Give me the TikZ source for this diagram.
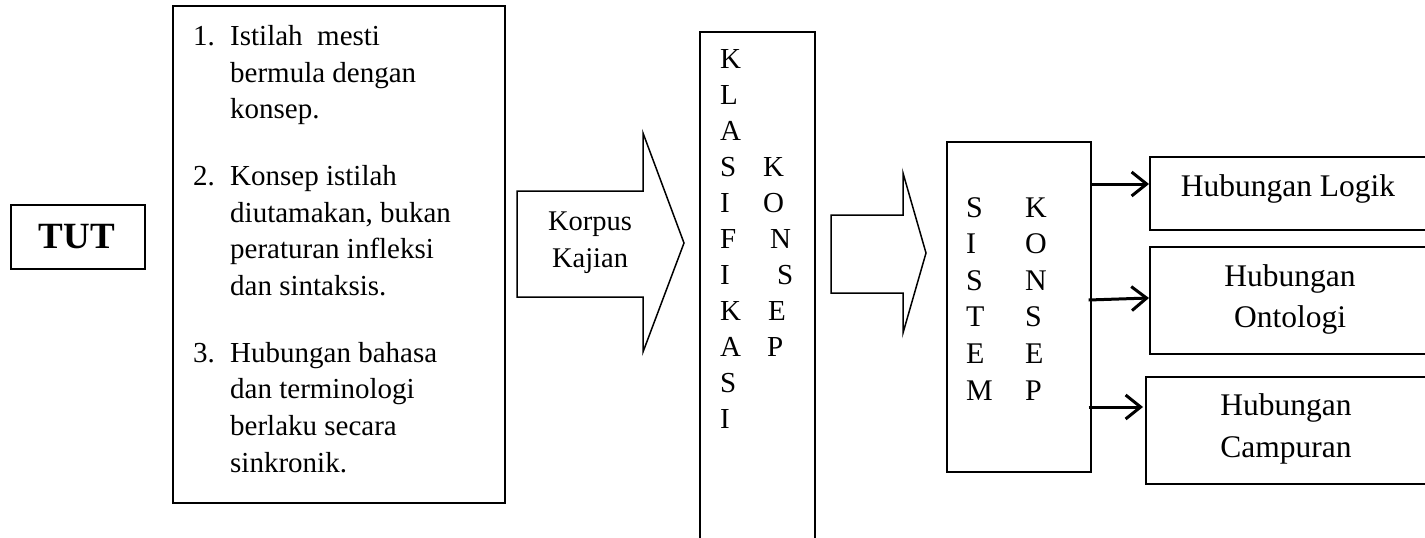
\documentclass[tikz,border=0pt]{standalone}
\usepackage{fontspec}
\setmainfont{Liberation Serif}
\usetikzlibrary{arrows.meta}
\begin{document}
\begin{tikzpicture}[x=1pt,y=-1pt,
  box/.style={draw, line width=1.6pt, rectangle, inner sep=0pt, anchor=north west},
  txt/.style={inner sep=0pt, anchor=base west, font=\fontsize{29}{35}\selectfont},
  ctxt/.style={inner sep=0pt, anchor=base, font=\fontsize{31.5}{38}\selectfont},
  ktxt/.style={inner sep=0pt, anchor=base, font=\fontsize{28.5}{34}\selectfont},
  let/.style={inner sep=0pt, anchor=base west, font=\fontsize{29}{35}\selectfont},
  slet/.style={inner sep=0pt, anchor=base west, font=\fontsize{30}{36}\selectfont},
  blockarrow/.style={draw, line width=1.5pt, line join=miter},
  conn/.style={line width=3pt, -{Straight Barb[length=15pt,width=24pt,line width=3pt]}}
]
\useasboundingbox (0,0) rectangle (1425,538);

% TUT
\node[box, minimum width=134pt, minimum height=64pt] (tut) at (10,204) {};
\node[inner sep=0pt, anchor=base, font=\bfseries\fontsize{37}{40}\selectfont] (tutlbl) at (77,248) {TUT};

% list box
\node[box, minimum width=332pt, minimum height=497pt] (list) at (172,5) {};
\node[txt] (n1) at (193,45) {1.};
\node[txt] (l1a) at (230,45) {Istilah\ \ mesti};
\node[txt] (l1b) at (230,82) {bermula dengan};
\node[txt] (l1c) at (230,118) {konsep.};
\node[txt] (n2) at (193,185) {2.};
\node[txt] (l2a) at (230,185) {Konsep istilah};
\node[txt] (l2b) at (230,222) {diutamakan, bukan};
\node[txt] (l2c) at (230,258) {peraturan infleksi};
\node[txt] (l2d) at (230,295) {dan sintaksis.};
\node[txt] (n3) at (193,362) {3.};
\node[txt] (l3a) at (230,362) {Hubungan bahasa};
\node[txt] (l3b) at (230,398) {dan terminologi};
\node[txt] (l3c) at (230,435) {berlaku secara};
\node[txt] (l3d) at (230,472) {sinkronik.};

% Korpus block arrow
\draw[blockarrow] (517,191) -- (643,191) -- (643,133) -- (684,243) -- (643,352) -- (643,297) -- (517,297) -- cycle;
\node[ktxt] (korpus) at (590,230) {Korpus};
\node[ktxt] (kajian) at (590,267) {Kajian};

% Klasifikasi box
\node[box, minimum width=115pt, minimum height=514pt] (klas) at (699,31) {};
\foreach \l [count=\i from 0] in {K,L,A,S,I,F,I,K,A,S,I}
  \node[let] (kl\i) at (720,{68+36*\i}) {\l};
\foreach \l/\xx [count=\i from 3] in {K/763,O/763,N/770,S/777,E/768,P/767}
  \node[let] (kk\i) at (\xx,{68+36*\i}) {\l};

% second block arrow
\draw[blockarrow] (831,215) -- (903,215) -- (903,173) -- (926,253) -- (903,333) -- (903,293) -- (831,293) -- cycle;

% Sistem box
\node[box, minimum width=144pt, minimum height=330pt] (sistem) at (946,141) {};
\foreach \l [count=\i from 0] in {S,I,S,T,E,M}
  \node[slet] (ss\i) at (966,{217+36.6*\i}) {\l};
\foreach \l [count=\i from 0] in {K,O,N,S,E,P}
  \node[slet] (sk\i) at (1025,{217+36.6*\i}) {\l};

% right boxes
\node[box, minimum width=291pt, minimum height=73pt] (logik) at (1149,156) {};
\node[box, minimum width=291pt, minimum height=107pt] (onto) at (1149,246) {};
\node[box, minimum width=295pt, minimum height=107pt] (camp) at (1145,376) {};
\node[ctxt] (logiklbl) at (1288,196) {Hubungan Logik};
\node[ctxt] (ontolbla) at (1290,286) {Hubungan};
\node[ctxt] (ontolblb) at (1290,327) {Ontologi};
\node[ctxt] (camplbla) at (1286,415) {Hubungan};
\node[ctxt] (camplblb) at (1286,457) {Campuran};

% connectors
\draw[conn] (sistem.east |- 0,184) -- (logik.west |- 0,184);
\draw[conn] ([xshift=-3pt]sistem.east |- 0,300) -- (onto.west |- 0,298);
\draw[conn] ([xshift=-3pt]sistem.east |- 0,407) -- ([xshift=-2pt]camp.west |- 0,407);
\end{tikzpicture}
\end{document}
